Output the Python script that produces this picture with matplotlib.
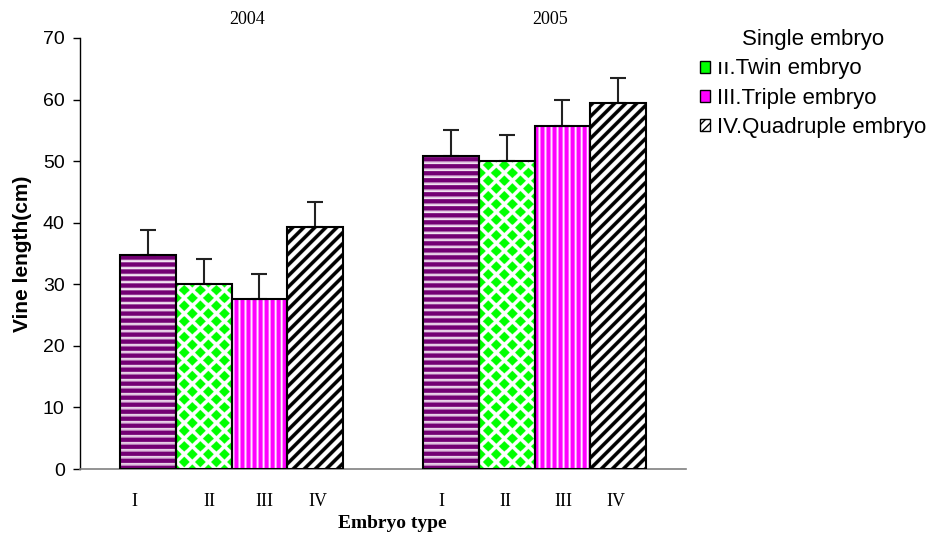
import numpy as np
import matplotlib
matplotlib.use("Agg")
import matplotlib.pyplot as plt
from matplotlib.patches import Patch

# ---------- données ----------
years = ["2004", "2005"]
types = ["I", "II", "III", "IV"]
means = {
    "2004": [34.7, 30.0, 27.6, 39.3],
    "2005": [50.9, 50.1, 55.7, 59.4],
}
errs = {
    "2004": [4.1, 4.1, 4.1, 4.1],
    "2005": [4.2, 4.1, 4.3, 4.1],
}
legend_title = "Single embryo"
legend_labels = ["\u0131\u0131.Twin embryo", "III.Triple embryo", "IV.Quadruple embryo"]
# -----------------------------

W, H = 930, 540
SANS = ["Liberation Sans", "DejaVu Sans"]
SERIF = ["Liberation Serif", "DejaVu Serif"]
plt.rcParams["font.family"] = SANS

fig = plt.figure(figsize=(W / 100, H / 100), dpi=100)
ax = fig.add_axes([80 / W, 1 - 469 / H, (686 - 80) / W, (469 - 38) / H])
ax.set_xlim(0, len(years))
ax.set_ylim(0, 70)

OVS = 4  # suréchantillonnage des motifs


def rgb(h):
    h = h.lstrip("#")
    return [int(h[i:i + 2], 16) / 255 for i in (0, 2, 4)]


def pattern(kind, xx, yy):
    """Renvoie une image RGB (h, w, 3) pour le motif demandé (coords pixel)."""
    img = np.ones(xx.shape + (3,))
    if kind == "hstripe":
        ph = yy % 7
        img[ph < 4.5] = rgb("#740074")
        img[(ph >= 5.3) & (ph < 6.2)] = rgb("#d2a2d2")
    elif kind == "diamond":
        P, V = 16.0, 7.8
        u = xx / P + yy / (2 * V)
        v = xx / P - yy / (2 * V)
        fu = u - np.floor(u)
        fv = v - np.floor(v)
        g = 0.16
        m = (fu > g) & (fu < 1 - g) & (fv > g) & (fv < 1 - g)
        img[m] = rgb("#00ff00")
    elif kind == "vstripe":
        ph = xx % 6
        img[ph < 4] = rgb("#ff00ff")
        img[ph >= 5] = rgb("#ffd0ff")
    elif kind == "diag":
        ph = (xx - yy) % 11
        img[ph < 5] = 0.0
    return img


def fill_pattern(ax, rect, kind):
    x0, y0 = rect.get_x(), rect.get_y()
    x1, y1 = x0 + rect.get_width(), y0 + rect.get_height()
    (px0, py0), (px1, py1) = ax.transData.transform([(x0, y0), (x1, y1)])
    w = max(int(round((px1 - px0) * OVS)), 1)
    h = max(int(round((py1 - py0) * OVS)), 1)
    gx = px0 + (np.arange(w) + 0.5) * (px1 - px0) / w
    gy = py0 + (np.arange(h) + 0.5) * (py1 - py0) / h
    xx, yy = np.meshgrid(gx, gy)
    img = pattern(kind, xx, yy)
    ax.imshow(img, extent=(x0, x1, y0, y1), origin="lower", interpolation="antialiased",
              aspect="auto", clip_path=rect, zorder=1)


kinds = ["hstripe", "diamond", "vstripe", "diag"]
bw = 0.184
offsets = (np.arange(len(types)) - (len(types) - 1) / 2) * bw

for gi, yr in enumerate(years):
    xs = gi + 0.5 + offsets
    bars = ax.bar(xs, means[yr], width=bw, facecolor="none", edgecolor="black",
                  linewidth=1.5, zorder=3)
    for rect, k in zip(bars, kinds):
        fill_pattern(ax, rect, k)
    ax.errorbar(xs, means[yr], yerr=[np.zeros(len(types)), errs[yr]], fmt="none",
                ecolor="#222222", elinewidth=1.5, capsize=6, capthick=1.5, zorder=2)

ax.set_xlim(0, len(years))
ax.set_ylim(0, 70)

# années au-dessus des groupes
year_px = [247, 550]
for px, yr in zip(year_px, years):
    fig.text(px / W, 1 - 20 / H, yr, ha="center", va="center", fontsize=13, family=SERIF)

# étiquettes I..IV placées à la main comme dans l'original
label_px = [134, 209, 264, 318, 441, 505, 563, 616]
for px, lab in zip(label_px, types * len(years)):
    fig.text(px / W, 1 - 502 / H, lab, ha="center", va="center", fontsize=13, family=SERIF)
fig.text(392 / W, 1 - 523 / H, "Embryo type", ha="center", va="center", fontsize=14,
         fontweight="bold", family=SERIF)

ax.set_xticks([])
ax.set_yticks(np.arange(0, 71, 10))
ax.tick_params(axis="y", direction="out", length=5, width=1, labelsize=14, pad=6)
for s in ["top", "right"]:
    ax.spines[s].set_visible(False)
ax.spines["bottom"].set_color("#808080")
ax.spines["bottom"].set_linewidth(1.2)
ax.spines["left"].set_linewidth(1)
ax.set_ylabel("Vine length(cm)", fontsize=15, fontweight="bold", labelpad=8)

handles = [
    Patch(facecolor="#00ff00", edgecolor="black", linewidth=1),
    Patch(facecolor="#ff00ff", edgecolor="black", linewidth=1),
    Patch(facecolor="white", edgecolor="black", linewidth=1, hatch="////"),
]
fig.legend(handles, legend_labels, title=legend_title, loc="upper left",
           bbox_to_anchor=(700 / W, 1 - 29 / H), frameon=False, fontsize=16,
           title_fontsize=16, handlelength=0.45, handleheight=0.45, handletextpad=0.3,
           labelspacing=0.38, borderpad=0, borderaxespad=0)

fig.savefig("out.png", dpi=100)
